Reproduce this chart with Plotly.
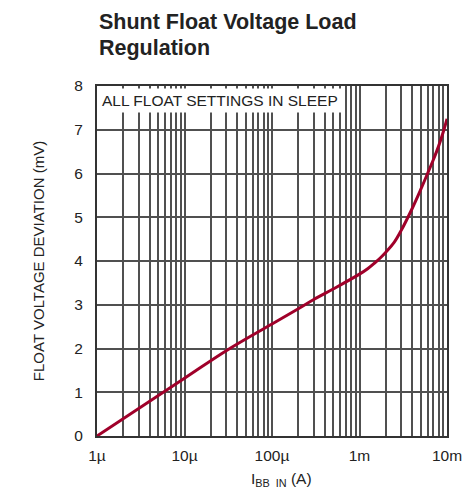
import plotly.graph_objects as go

# Battery-backup input current (A) and resulting float voltage deviation (mV)
current_a = [1e-6, 1e-5, 3e-5, 1e-4, 2e-4, 3e-4, 5e-4, 1e-3, 1.25e-3, 1.5e-3,
             1.75e-3, 2e-3, 2.5e-3, 3e-3, 4e-3, 5e-3, 6e-3, 7e-3, 8e-3, 9e-3, 1e-2]
deviation_mv = [0.0, 1.32, 1.95, 2.56, 2.91, 3.12, 3.36, 3.70, 3.83, 3.96,
                4.08, 4.20, 4.43, 4.70, 5.20, 5.63, 6.00, 6.32, 6.62, 6.93, 7.25]

decade_vals = [1e-6, 1e-5, 1e-4, 1e-3, 1e-2]
decade_labels = ["1µ", "10µ", "100µ", "1m", "10m"]
y_ticks = [0, 1, 2, 3, 4, 5, 6, 7, 8]

# full 1..9 grid per decade, labels only on the decades
grid_vals, grid_text = [], []
for d, lab in zip(decade_vals, decade_labels):
    for m in range(1, 10):
        v = d * m
        if v > 1e-2 * 1.0001:
            break
        grid_vals.append(v)
        grid_text.append(lab if m == 1 else "")

FONT = "Liberation Sans, Arial, sans-serif"
TEXT = "#222222"
LINE = "#a0002a"
GRID = "#505050"

fig = go.Figure()
fig.add_trace(go.Scatter(
    x=current_a, y=deviation_mv, mode="lines",
    line=dict(color=LINE, width=3, shape="spline", smoothing=1.0),
    showlegend=False, hoverinfo="skip",
))

title_lines = ["Shunt Float Voltage Load", "Regulation"]
annotations = []
for i, line in enumerate(title_lines):
    annotations.append(dict(
        text="<b>" + line + "</b>",
        xref="paper", yref="paper", x=0, y=1,
        xanchor="left", yanchor="top", yshift=78 - 26 * i,
        showarrow=False, font=dict(family=FONT, size=21.5, color=TEXT),
    ))

annotations.append(dict(
    text="ALL FLOAT SETTINGS IN SLEEP",
    xref="paper", yref="paper", x=0.004, y=0.995,
    xanchor="left", yanchor="top", showarrow=False,
    bgcolor="white", borderpad=3,
    font=dict(family=FONT, size=15.5, color=TEXT),
))

annotations.append(dict(
    text="I<sub>BB  IN</sub> (A)",
    xref="paper", yref="paper", x=0.526, y=0,
    xanchor="center", yanchor="top", yshift=-32,
    showarrow=False, font=dict(family=FONT, size=15.5, color=TEXT),
))

fig.update_layout(
    width=474, height=491,
    margin=dict(l=97, r=27, t=86, b=55),
    paper_bgcolor="white", plot_bgcolor="white",
    font=dict(family=FONT, size=15, color=TEXT),
    xaxis=dict(
        type="log", range=[-6, -2],
        tickvals=grid_vals, ticktext=grid_text,
        showgrid=True, gridcolor=GRID, gridwidth=2,
        showline=True, linecolor="#333333", linewidth=2, mirror=True,
        ticks="", zeroline=False, ticklabelstandoff=4,
        tickfont=dict(size=15.5),
    ),
    yaxis=dict(
        range=[0, 8], tickvals=y_ticks,
        showgrid=True, gridcolor=GRID, gridwidth=2,
        showline=True, linecolor="#333333", linewidth=2, mirror=True,
        ticks="", zeroline=False, ticklabelstandoff=9,
        tickfont=dict(size=15.5),
        title=dict(text="FLOAT VOLTAGE DEVIATION (mV)",
                   font=dict(size=15), standoff=26),
    ),
    annotations=annotations,
)

fig.write_html("out.html")
